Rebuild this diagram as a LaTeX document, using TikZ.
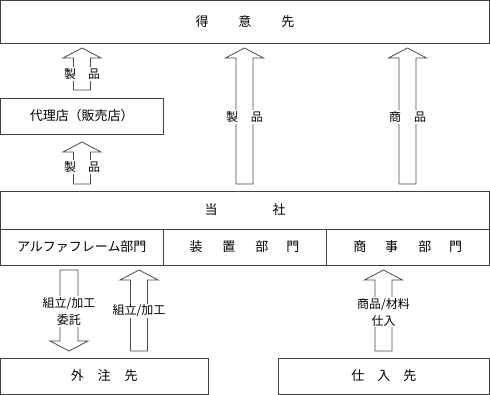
\documentclass[tikz,border=0pt]{standalone}
\usepackage{fontspec}
\setmainfont{Noto Sans CJK JP}
\definecolor{linecol}{gray}{0.25}
\definecolor{arrcol}{gray}{0.3}
\newcommand\blkUp[4]{%
  \draw[blk] ({#1-8.5},#4) -- ({#1-8.5},#3) -- ({#1-19},#3) -- (#1,#2) -- ({#1+19},#3) -- ({#1+8.5},#3) -- ({#1+8.5},#4) -- cycle;}
\newcommand\blkDown[4]{%
  \draw[blk] ({#1-9},#2) -- ({#1-9},#3) -- ({#1-19},#3) -- (#1,#4) -- ({#1+19},#3) -- ({#1+9},#3) -- ({#1+9},#2) -- cycle;}
\begin{document}
\begin{tikzpicture}[x=1pt,y=-1pt,
  box/.style={draw=linecol, line width=0.9pt, rectangle, outer sep=0pt, inner sep=0pt,
    font=\fontsize{13}{15}\selectfont, anchor=north west},
  lbl/.style={fill=white, inner sep=1pt, font=\fontsize{12}{17}\selectfont, align=center},
  blk/.style={draw=arrcol, fill=white, line width=0.8pt}]
\useasboundingbox[fill=white] (0,0) rectangle (490,395);
% boxes
\node[box, minimum width=489pt, minimum height=43pt] (cust) at (0.5,0.5) {得\hspace{30pt}意\hspace{30pt}先};
\node[box, minimum width=162.5pt, minimum height=36pt] (agent) at (0.5,98) {代理店（販売店）};
\node[box, minimum width=489pt, minimum height=38pt] (co) at (0.5,191) {当\hspace{55pt}社};
\node[box, minimum width=162.5pt, minimum height=36pt] (d1) at (0.5,229) {アルファフレーム部門\hspace{8pt}};
\node[box, minimum width=163pt, minimum height=36pt] (d2) at (163,229) {装\hspace{20pt}置\hspace{20pt}部\hspace{18pt}門};
\node[box, minimum width=163.5pt, minimum height=36pt] (d3) at (326,229) {商\hspace{19pt}事\hspace{20pt}部\hspace{18pt}門\hspace{6pt}};
\node[box, minimum width=207.5pt, minimum height=36pt] (out) at (0.5,358) {外\hspace{14pt}注\hspace{14pt}先};
\node[box, minimum width=211.5pt, minimum height=36pt] (sup) at (278,358) {仕\hspace{13pt}入\hspace{13pt}先};
% block arrows
\blkUp{82}{48}{58}{90}
\blkUp{82}{142}{152}{184}
\blkUp{244.5}{48}{58}{184}
\blkUp{407.5}{48}{58}{184}
\blkUp{139}{270}{280}{351}
\blkUp{383.5}{270}{280}{351}
\blkDown{69}{270}{341}{351}
% labels
\node[lbl] (l1) at (82,74) {製\hspace{12pt}品};
\node[lbl] (l2) at (82,167) {製\hspace{12pt}品};
\node[lbl] (l3) at (244.5,117) {製\hspace{13pt}品};
\node[lbl] (l4) at (407.5,117) {商\hspace{13pt}品};
\node[lbl] (l5) at (69,311.5) {組立/加工\\委託};
\node[lbl] (l6) at (139,311) {組立/加工};
\node[lbl] (l7) at (383.5,312) {商品/材料\\仕入};
\end{tikzpicture}
\end{document}
